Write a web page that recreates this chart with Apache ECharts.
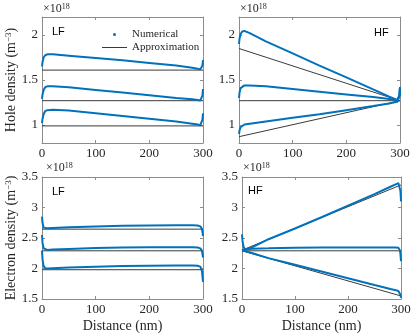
<!DOCTYPE html>
<html>
<head>
<meta charset="utf-8">
<script src="https://cdn.jsdelivr.net/npm/echarts@6/dist/echarts.min.js"></script>
<style>
  html, body { margin: 0; padding: 0; background: #fff; }
  #chart { width: 419px; height: 334px; }
</style>
</head>
<body>
<div id="chart"></div>
<script>
// distance samples (nm) for the numerical curves, and ends of the approximation lines
const numX = [0, 1, 3, 6, 10, 20, 50, 100, 150, 200, 250, 280, 290, 295, 298, 299, 300];
const approxX = [0, 300];

// hole density, low field (x1e18 m^-3)
const holeLF = [
  [1.65, 1.70, 1.75, 1.775, 1.785, 1.785, 1.77, 1.745, 1.72, 1.69, 1.66, 1.635, 1.625, 1.618, 1.625, 1.66, 1.72],
  [1.29, 1.34, 1.39, 1.42, 1.43, 1.43, 1.42, 1.39, 1.36, 1.33, 1.30, 1.285, 1.278, 1.272, 1.285, 1.33, 1.40],
  [1.02, 1.07, 1.12, 1.155, 1.165, 1.17, 1.16, 1.13, 1.10, 1.07, 1.04, 1.015, 1.005, 0.998, 1.01, 1.06, 1.13]
];
const holeLFApprox = [[1.61, 1.61], [1.27, 1.27], [0.99, 0.99]];

// hole density, high field
const holeHF = [
  [1.90, 1.96, 2.01, 2.04, 2.045, 2.02, 1.93, 1.795, 1.66, 1.53, 1.395, 1.315, 1.29, 1.275, 1.285, 1.33, 1.42],
  [1.30, 1.36, 1.41, 1.43, 1.44, 1.44, 1.43, 1.40, 1.37, 1.34, 1.31, 1.29, 1.282, 1.275, 1.285, 1.33, 1.42],
  [0.90, 0.94, 0.975, 0.995, 1.005, 1.015, 1.04, 1.08, 1.12, 1.165, 1.21, 1.24, 1.252, 1.258, 1.27, 1.32, 1.42]
];
const holeHFApprox = [[1.85, 1.27], [1.27, 1.27], [0.87, 1.27]];

// electron density, low field
const elecLF = [
  [2.85, 2.75, 2.67, 2.655, 2.66, 2.665, 2.675, 2.69, 2.70, 2.705, 2.71, 2.71, 2.705, 2.69, 2.65, 2.60, 2.53],
  [2.55, 2.42, 2.33, 2.305, 2.305, 2.31, 2.32, 2.335, 2.345, 2.35, 2.35, 2.35, 2.345, 2.33, 2.29, 2.24, 2.18],
  [2.29, 2.15, 2.04, 2.005, 2.0, 2.005, 2.015, 2.03, 2.04, 2.045, 2.05, 2.05, 2.045, 2.03, 1.96, 1.88, 1.78]
];
const elecLFApprox = [[2.645, 2.645], [2.29, 2.29], [1.98, 1.98]];

// electron density, high field
const elecHF = [
  [2.56, 2.45, 2.35, 2.315, 2.32, 2.35, 2.48, 2.655, 2.84, 3.03, 3.22, 3.34, 3.38, 3.40, 3.37, 3.27, 3.10],
  [2.30, 2.30, 2.31, 2.315, 2.32, 2.325, 2.33, 2.34, 2.345, 2.345, 2.345, 2.345, 2.345, 2.34, 2.30, 2.23, 2.12],
  [2.30, 2.30, 2.29, 2.285, 2.275, 2.25, 2.17, 2.06, 1.95, 1.84, 1.73, 1.665, 1.645, 1.63, 1.60, 1.57, 1.52]
];
const elecHFApprox = [[2.30, 3.37], [2.29, 2.29], [2.29, 1.55]];

const xTicks = [0, 100, 200, 300];
const holeTicks = [1, 1.5, 2];
const elecTicks = [1.5, 2, 2.5, 3, 3.5];

const serif = "'Liberation Serif', 'DejaVu Serif', serif";
const sans = "'Liberation Sans', Arial, sans-serif";
const blue = '#0072BD';
const approxCol = '#3a3a3a';
const axisCol = '#8c8c8c';
const textCol = '#262626';

const panels = [
  { grid: { left: 42, top: 17, width: 161, height: 126 }, min: 0.8, max: 2.2, ticks: holeTicks,
    num: holeLF, approx: holeLFApprox, yName: 'Hole density (m{sup|−3})', xName: '' },
  { grid: { left: 239, top: 17, width: 161, height: 126 }, min: 0.8, max: 2.2, ticks: holeTicks,
    num: holeHF, approx: holeHFApprox, yName: '', xName: '' },
  { grid: { left: 42, top: 177, width: 161, height: 122 }, min: 1.5, max: 3.5, ticks: elecTicks,
    num: elecLF, approx: elecLFApprox, yName: 'Electron density (m{sup|−3})', xName: 'Distance (nm)' },
  { grid: { left: 242, top: 177, width: 159, height: 122 }, min: 1.5, max: 3.5, ticks: elecTicks,
    num: elecHF, approx: elecHFApprox, yName: '', xName: 'Distance (nm)' }
];

function xAxis(gi, pos, p) {
  const main = pos === 'bottom';
  return {
    type: 'value', gridIndex: gi, position: pos, min: 0, max: 300,
    name: main ? p.xName : '', nameLocation: 'middle', nameGap: 20,
    nameTextStyle: { fontFamily: serif, fontSize: 14, color: textCol },
    axisLine: { show: true, onZero: false, lineStyle: { color: axisCol, width: 1 } },
    axisTick: { show: true, inside: true, length: 3, customValues: xTicks, lineStyle: { color: axisCol } },
    axisLabel: { show: main, customValues: xTicks, margin: 4, fontFamily: serif, fontSize: 13, color: textCol },
    splitLine: { show: false }
  };
}

function yAxis(gi, pos, p) {
  const main = pos === 'left';
  return {
    type: 'value', gridIndex: gi, position: pos, min: p.min, max: p.max,
    name: main ? p.yName : '', nameLocation: 'middle', nameGap: 22,
    nameTextStyle: {
      fontFamily: serif, fontSize: 14, color: textCol,
      rich: { sup: { fontFamily: serif, fontSize: 9, color: textCol, verticalAlign: 'top' } }
    },
    axisLine: { show: true, onZero: false, lineStyle: { color: axisCol, width: 1 } },
    axisTick: { show: true, inside: true, length: 3, customValues: p.ticks, lineStyle: { color: axisCol } },
    axisLabel: { show: main, customValues: p.ticks, margin: 4, fontFamily: serif, fontSize: 13, color: textCol },
    splitLine: { show: false }
  };
}

const grids = [], xAxes = [], yAxes = [], series = [];
panels.forEach((p, i) => {
  grids.push(p.grid);
  xAxes.push(xAxis(i, 'bottom', p), xAxis(i, 'top', p));
  yAxes.push(yAxis(i, 'left', p), yAxis(i, 'right', p));
  p.approx.forEach(a => {
    series.push({
      type: 'line', name: 'Approximation', xAxisIndex: 2 * i, yAxisIndex: 2 * i,
      data: approxX.map((x, k) => [x, a[k]]), symbol: 'none', z: 2,
      lineStyle: { color: approxCol, width: 1 }, itemStyle: { color: approxCol }
    });
  });
  p.num.forEach(c => {
    series.push({
      type: 'line', name: 'Numerical', xAxisIndex: 2 * i, yAxisIndex: 2 * i,
      data: numX.map((x, k) => [x, c[k]]), symbol: 'none', z: 3,
      lineStyle: { color: blue, width: 2 }, itemStyle: { color: blue }
    });
  });
});

function expText(left, top) {
  return {
    type: 'text', left: left, top: top,
    style: {
      text: '×10{s|18}', fontFamily: serif, fontSize: 12, fill: textCol,
      rich: { s: { fontFamily: serif, fontSize: 8, fill: textCol, verticalAlign: 'top' } }
    }
  };
}
function tag(txt, left, top) {
  return { type: 'text', left: left, top: top, style: { text: txt, fontFamily: sans, fontSize: 11, fill: '#000' } };
}

const option = {
  animation: false,
  grid: grids,
  xAxis: xAxes,
  yAxis: yAxes,
  series: series,
  legend: {
    left: 97, top: 23, orient: 'vertical', itemWidth: 25, itemHeight: 3, itemGap: 0,
    selectedMode: false,
    textStyle: { fontFamily: serif, fontSize: 11, color: textCol, lineHeight: 13 },
    data: [
      { name: 'Numerical', icon: 'circle', itemStyle: { color: blue } },
      { name: 'Approximation', icon: 'path://M0,0L25,0L25,1L0,1Z', itemStyle: { color: approxCol } }
    ]
  },
  graphic: [
    expText(43, 3), expText(240, 3), expText(46, 162), expText(243, 162),
    tag('LF', 52, 26), tag('HF', 374, 27), tag('LF', 52, 186), tag('HF', 248, 185)
  ]
};

const chart = echarts.init(document.getElementById('chart'), null, { renderer: 'canvas' });
chart.setOption(option);
</script>
</body>
</html>
